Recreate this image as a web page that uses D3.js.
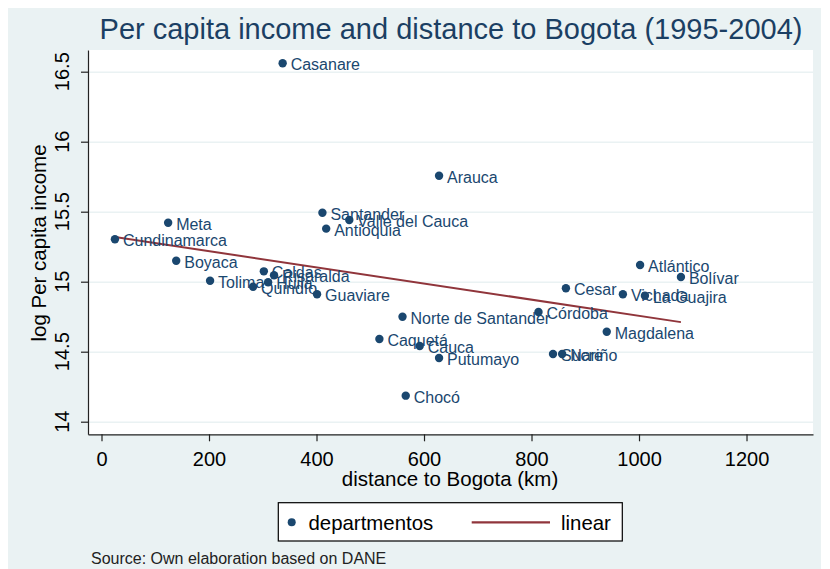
<!DOCTYPE html>
<html>
<head>
<meta charset="utf-8">
<script src="https://cdn.jsdelivr.net/npm/d3@7/dist/d3.min.js"></script>
<style>
  html, body { margin: 0; padding: 0; background: #ffffff; }
  svg { display: block; font-family: "Liberation Sans", Arial, sans-serif; }
</style>
</head>
<body>
<svg id="chart" width="830" height="569"></svg>
<script>
// Colombian departments: distance to Bogota (km) and log per capita income
const departments = [
  "Casanare", "Arauca", "Santander", "Valle del Cauca", "Antioquia", "Meta",
  "Cundinamarca", "Boyaca", "Caldas", "Risaralda", "Tolima", "Huila",
  "Quindío", "Guaviare", "Norte de Santander", "Caquetá", "Cauca", "Putumayo",
  "Chocó", "Córdoba", "Cesar", "Vichada", "La Guajira", "Atlántico",
  "Bolívar", "Magdalena", "Sucre", "Nariño"
];
const distanceKm = [
  337, 628, 411, 461, 418, 124,
  25, 139, 302, 321, 202, 310,
  282, 401, 560, 517, 592, 628,
  566, 813, 864, 970, 1011, 1002,
  1078, 940, 840, 857
];
const logIncome = [
  16.56, 15.757, 15.493, 15.441, 15.379, 15.421,
  15.303, 15.150, 15.074, 15.046, 15.007, 14.996,
  14.964, 14.910, 14.750, 14.591, 14.541, 14.455,
  14.186, 14.784, 14.953, 14.910, 14.900, 15.119,
  15.034, 14.643, 14.484, 14.484
];
const xTicks = [0, 200, 400, 600, 800, 1000, 1200];
const yTicks = [14, 14.5, 15, 15.5, 16, 16.5];

const navy = "#1a476f", maroon = "#90353b", bluishGray = "#eaf2f3";

const svg = d3.select("#chart");
const plot = { left: 88, right: 813, top: 50, bottom: 434.3 };

// Graph region background
svg.append("rect").attr("x", 8).attr("y", 8).attr("width", 813).attr("height", 561)
  .attr("fill", bluishGray);
// Plot region
svg.append("rect").attr("x", plot.left).attr("y", plot.top)
  .attr("width", plot.right - plot.left).attr("height", plot.bottom - plot.top)
  .attr("fill", "#ffffff");

const x = d3.scaleLinear().domain([-25.12, 1323.7]).range([plot.left, plot.right]);
const y = d3.scaleLinear().domain([13.91, 16.655]).range([plot.bottom, plot.top]);

// Horizontal grid lines
svg.append("g").attr("transform", `translate(${plot.left},0)`)
  .call(d3.axisLeft(y).tickValues(yTicks).tickSize(-(plot.right - plot.left)).tickFormat(""))
  .call(g => g.select(".domain").remove())
  .call(g => g.selectAll("line").attr("stroke", bluishGray).attr("stroke-width", 1.6));

// X axis
const xAxis = svg.append("g").attr("transform", `translate(0,${plot.bottom})`)
  .call(d3.axisBottom(x).tickValues(xTicks).tickFormat(d3.format("d"))
    .tickSize(7).tickSizeOuter(0).tickPadding(11));
xAxis.select(".domain").attr("stroke", "#222").attr("stroke-width", 1.2);
xAxis.selectAll(".tick line").attr("stroke", "#222").attr("stroke-width", 1.2);
xAxis.selectAll(".tick text").attr("font-size", 20).attr("fill", "#000")
  .attr("font-family", "Liberation Sans, Arial, sans-serif");

// Y axis with rotated tick labels
const yAxis = svg.append("g").attr("transform", `translate(${plot.left},0)`)
  .call(d3.axisLeft(y).tickValues(yTicks).tickSize(7).tickSizeOuter(0).tickFormat(""));
yAxis.select(".domain").attr("stroke", "#222").attr("stroke-width", 1.2);
yAxis.selectAll(".tick line").attr("stroke", "#222").attr("stroke-width", 1.2);
svg.append("g").selectAll("text").data(yTicks).join("text")
  .attr("transform", d => `translate(69,${y(d)}) rotate(-90)`)
  .attr("text-anchor", "middle").attr("font-size", 20).attr("fill", "#000")
  .text(d => d3.format("")(d));

// Linear fit
const n = distanceKm.length;
const mx = d3.mean(distanceKm), my = d3.mean(logIncome);
let sxy = 0, sxx = 0;
for (let i = 0; i < n; i++) {
  sxy += (distanceKm[i] - mx) * (logIncome[i] - my);
  sxx += (distanceKm[i] - mx) ** 2;
}
const slope = sxy / sxx, intercept = my - slope * mx;
const [dMin, dMax] = d3.extent(distanceKm);
svg.append("line")
  .attr("x1", x(dMin)).attr("y1", y(intercept + slope * dMin))
  .attr("x2", x(dMax)).attr("y2", y(intercept + slope * dMax))
  .attr("stroke", maroon).attr("stroke-width", 2);

// Points with labels
const pts = svg.append("g");
pts.selectAll("circle").data(departments).join("circle")
  .attr("cx", (d, i) => x(distanceKm[i])).attr("cy", (d, i) => y(logIncome[i]))
  .attr("r", 4.2).attr("fill", navy);
pts.selectAll("text").data(departments).join("text")
  .attr("x", (d, i) => x(distanceKm[i]) + 8).attr("y", (d, i) => y(logIncome[i]) + 7)
  .attr("font-size", 16).attr("fill", navy).text(d => d);

// Titles
svg.append("text").attr("x", 451).attr("y", 39).attr("text-anchor", "middle")
  .attr("font-size", 29).attr("fill", "#1b3f63")
  .text("Per capita income and distance to Bogota (1995-2004)");
svg.append("text").attr("x", 450).attr("y", 486).attr("text-anchor", "middle")
  .attr("font-size", 20.5).attr("fill", "#000").text("distance to Bogota (km)");
svg.append("text").attr("transform", "translate(46,243) rotate(-90)").attr("text-anchor", "middle")
  .attr("font-size", 20.5).attr("fill", "#000").text("log Per capita income");

// Legend
const legend = svg.append("g");
legend.append("rect").attr("x", 278.3).attr("y", 502.7).attr("width", 344).attr("height", 38.3)
  .attr("fill", "#fff").attr("stroke", "#000").attr("stroke-width", 1.2);
legend.append("circle").attr("cx", 291.7).attr("cy", 522.3).attr("r", 4).attr("fill", navy);
legend.append("text").attr("x", 308.5).attr("y", 529.5).attr("font-size", 20.4).attr("fill", "#000")
  .text("departmentos");
legend.append("line").attr("x1", 471.7).attr("x2", 550).attr("y1", 522.3).attr("y2", 522.3)
  .attr("stroke", maroon).attr("stroke-width", 2.2);
legend.append("text").attr("x", 561).attr("y", 529.5).attr("font-size", 20.4).attr("fill", "#000")
  .text("linear");

// Note
svg.append("text").attr("x", 91).attr("y", 564).attr("font-size", 16).attr("fill", "#222")
  .text("Source: Own elaboration based on DANE");
</script>
</body>
</html>
